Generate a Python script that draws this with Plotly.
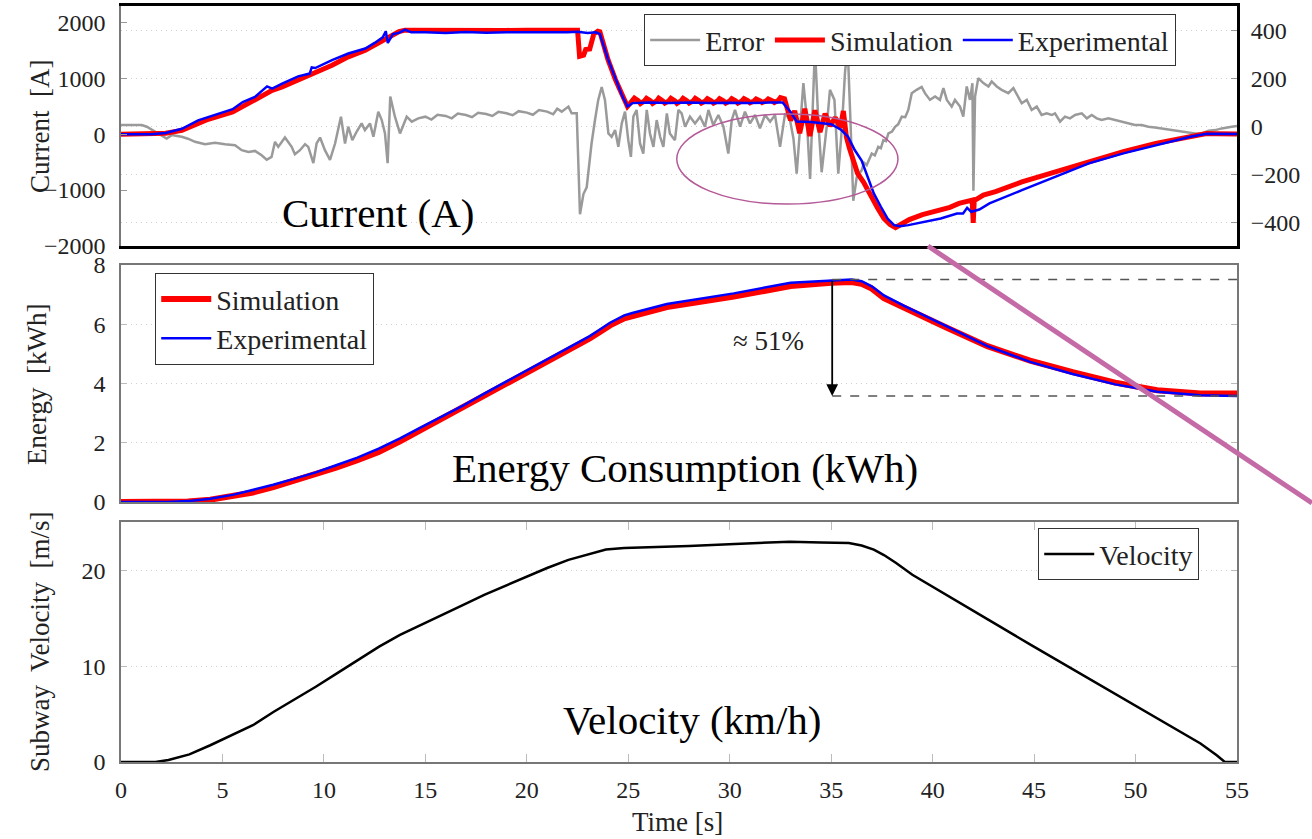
import plotly.graph_objects as go

FONT = "Liberation Serif"

# ---------------- data ----------------
# Error (right axis of top panel), (time [s], value)
error_pts = [
    (0, 7), (1.02, 7), (1.27, 0), (1.68, -21), (2.25, -49), (2.5, -35), (2.99, -42), (3.3, -50),
    (3.65, -63), (4.14, -73), (4.63, -67), (5.13, -73), (5.62, -77), (5.95, -98), (6.28, -105),
    (6.6, -101), (6.93, -119), (7.18, -138), (7.42, -126), (7.59, -63), (7.75, -84), (8.08, -45),
    (8.41, -84), (8.57, -115), (8.82, -98), (9.07, -73), (9.23, -84), (9.48, -152), (9.64, -70),
    (9.81, -45), (10.05, -98), (10.3, -138), (10.55, -70), (10.84, 42), (11.04, -70), (11.2, 0),
    (11.4, -56), (11.61, -21), (11.86, 14), (12.02, -14), (12.27, 14), (12.44, -42), (12.68, 63),
    (12.85, 28), (13.01, -28), (13.14, -152), (13.27, 126), (13.5, 42), (13.75, -28), (14.08, 42),
    (14.33, 21), (14.65, 35), (15.0, 42), (15.3, 30), (15.6, 50), (16.0, 45), (16.3, 35),
    (16.6, 55), (17.0, 49), (17.3, 40), (17.6, 58), (18.0, 53), (18.3, 45), (18.6, 62), (19.0, 56),
    (19.3, 48), (19.6, 65), (20.0, 59), (20.3, 50), (20.6, 70), (21.0, 63), (21.3, 52), (21.5, 75),
    (21.72, 63), (22.05, 84), (22.21, 56), (22.46, 56), (22.62, -365), (22.79, -281), (22.95, -253),
    (23.19, -70), (23.36, 28), (23.52, 112), (23.69, 166), (23.85, 112), (24.02, -28), (24.18, -42),
    (24.35, -14), (24.51, -84), (24.68, 14), (24.84, 63), (25.0, -56), (25.13, -126), (25.25, 42),
    (25.41, 70), (25.58, -70), (25.74, -112), (25.91, 70), (26.07, -28), (26.24, -84), (26.4, 28),
    (26.57, -42), (26.73, -84), (26.9, 56), (27.05, -28), (27.3, -56), (27.47, 70), (27.63, 56),
    (27.8, 0), (28.04, 42), (28.29, 14), (28.54, 42), (28.78, 0), (28.95, 70), (29.19, 7),
    (29.44, 49), (29.69, 0), (29.93, -112), (30.1, 28), (30.26, 70), (30.51, 0), (30.75, 63),
    (31.0, 14), (31.25, 49), (31.49, -7), (31.74, 49), (31.99, 21), (32.23, 49), (32.48, -84),
    (32.73, 56), (32.97, 28), (33.14, -49), (33.3, -196), (33.47, 0), (33.63, 182), (33.79, 42),
    (33.96, -218), (34.2, 330), (34.37, 14), (34.53, -190), (34.78, 0), (34.94, 154), (35.16, 112),
    (35.35, -196), (35.52, -14), (35.68, 225), (35.81, 340), (35.93, 70), (36.09, -309),
    (36.26, -211), (36.5, -182), (36.62, -150), (36.75, -160), (37.0, -112), (37.15, -120),
    (37.32, -84), (37.45, -90), (37.57, -56), (37.7, -60), (37.82, -28), (38.0, -20), (38.15, 0),
    (38.3, 10), (38.48, 42), (38.65, 40), (38.8, 70), (38.97, 140), (39.21, 154), (39.46, 166),
    (39.62, 140), (39.87, 112), (40.12, 126), (40.36, 112), (40.53, 161), (40.7, 112), (40.94, 84),
    (41.1, 112), (41.35, 84), (41.51, 42), (41.68, 168), (41.84, 112), (41.96, 182), (42.01, -267),
    (42.09, 126), (42.25, 203), (42.5, 182), (42.75, 168), (42.91, 189), (43.16, 168), (43.4, 154),
    (43.73, 140), (43.98, 161), (44.23, 126), (44.39, 98), (44.64, 112), (44.88, 70), (45.13, 84),
    (45.37, 49), (45.62, 56), (45.87, 49), (46.03, 56), (46.28, 21), (46.52, 42), (46.77, 35),
    (47.02, 49), (47.35, 56), (47.6, 35), (47.84, 49), (48.09, 35), (48.33, 28), (48.66, 35),
    (48.99, 28), (49.32, 21), (49.65, 14), (49.97, 7), (50.3, 7), (50.63, 0), (50.96, -3),
    (51.29, -7), (51.62, -11), (51.95, -17), (52.27, -21), (52.6, -25), (52.93, -28), (53.26, -28),
    (53.6, -17), (53.93, -14), (54.25, -7), (54.74, 0), (55, 3),
]

# Simulation current [A]
sim_current_pts = [
    (0, 0), (1.5, 0), (2.2, 20), (3.0, 70), (3.8, 190), (4.3, 270), (5.5, 400), (6.0, 500),
    (6.6, 610), (7.45, 790), (7.94, 850), (8.73, 970), (9.57, 1090), (10.4, 1240), (11.2, 1390),
    (12.04, 1510), (12.5, 1600), (12.9, 1690), (13.3, 1760), (13.7, 1845), (14.0, 1870),
    (15, 1865), (16, 1872), (17, 1862), (18, 1868), (19, 1865), (20, 1870), (21, 1866), (22, 1872),
    (22.5, 1870), (22.6, 1400), (22.8, 1420), (22.9, 1520), (23.1, 1530), (23.3, 1800), (23.5, 1850),
    (23.6, 1840), (24.0, 1340), (24.37, 980), (24.7, 680), (24.96, 500), (25.1, 560),
    (25.3, 650), (25.5, 600), (25.6, 550), (25.8, 600), (25.9, 645), (26.1, 600), (26.2, 555),
    (26.4, 600), (26.5, 650), (26.7, 600), (26.8, 560), (27.0, 600), (27.1, 645), (27.3, 600),
    (27.4, 555), (27.6, 600), (27.7, 645), (27.9, 600), (28.0, 560), (28.2, 600), (28.3, 645),
    (28.5, 600), (28.6, 560), (28.8, 600), (28.9, 640), (29.1, 600), (29.2, 560), (29.4, 600),
    (29.5, 640), (29.7, 600), (29.8, 560), (30.0, 600), (30.1, 640), (30.3, 600), (30.4, 560),
    (30.6, 600), (30.7, 640), (30.9, 600), (31.0, 565), (31.2, 600), (31.3, 635), (31.5, 600),
    (31.6, 570), (31.8, 600), (31.9, 635), (32.1, 600), (32.2, 570), (32.4, 610), (32.5, 660),
    (32.7, 640), (33.0, 250), (33.2, 420),
    (33.45, 20), (33.7, 460), (33.95, -30), (34.2, 430), (34.45, 40), (34.7, 370), (34.95, 150),
    (35.2, 300), (35.45, 120), (35.6, 420), (35.75, -50), (35.9, -250), (36.1, -500), (36.3, -700),
    (36.6, -860), (36.97, -1120), (37.3, -1330), (37.6, -1510), (37.9, -1620), (38.17, -1673),
    (38.5, -1610), (38.85, -1530), (39.5, -1440), (40.2, -1370), (40.85, -1310), (41.3, -1240),
    (41.8, -1200), (41.95, -1180), (42.0, -1590), (42.05, -1190), (42.5, -1090), (43.1, -1030),
    (44.4, -855), (46.1, -672), (47.7, -492), (49.4, -312), (51.0, -162), (52.7, -43),
    (53.5, 15), (54, 10), (55, 5),
]

# Experimental current [A]
exp_current_pts = [
    (0, 0), (1.5, 0), (2.2, 25), (3.0, 100), (3.8, 250), (4.3, 310), (5.5, 450), (6.0, 580),
    (6.6, 670), (7.2, 860), (7.45, 820), (7.94, 910), (8.73, 1040), (9.3, 1090), (9.4, 1200),
    (9.57, 1190), (10.4, 1330), (11.2, 1450), (12.04, 1540), (12.5, 1640), (12.9, 1740),
    (13.05, 1850), (13.15, 1640), (13.4, 1800), (13.7, 1820), (14.0, 1880), (14.3, 1830),
    (15, 1830), (16, 1820), (17, 1835), (18, 1825), (19, 1832), (20, 1828), (21, 1835), (22, 1830),
    (22.5, 1840), (23.0, 1820), (23.4, 1830), (23.6, 1800), (24.0, 1350), (24.37, 990),
    (24.7, 690), (24.96, 500), (25.2, 560), (26, 570), (27, 560), (28, 570), (29, 560), (30, 565),
    (31, 560), (32, 570), (32.6, 570), (33.0, 400), (33.3, 230), (34, 220), (35.0, 180),
    (35.2, 140), (35.5, 77), (35.83, -43), (36.16, -282), (36.5, -470), (36.8, -762),
    (37.1, -1061), (37.45, -1300), (37.78, -1511), (38.1, -1631), (38.4, -1650), (38.8, -1630),
    (39.6, -1572), (40.4, -1511), (41.2, -1421), (41.5, -1420), (41.7, -1320), (41.9, -1390),
    (42.3, -1350), (42.8, -1241), (44.4, -1002), (46.1, -762), (47.7, -522), (49.4, -342),
    (51.0, -192), (52.7, -43), (53.5, 10), (55, 5),
]

# Energy [kWh]
sim_energy_pts = [
    (0, 0), (2.3, 0), (3.3, 0.02), (4.4, 0.08), (5.5, 0.19), (6.5, 0.32), (7.5, 0.5), (8.56, 0.71),
    (9.6, 0.92), (10.6, 1.16), (11.65, 1.41), (12.7, 1.69), (13.75, 2.05), (14.8, 2.44),
    (15.85, 2.82), (16.9, 3.19), (17.9, 3.58), (18.95, 3.97), (20, 4.35), (21.0, 4.73),
    (22.05, 5.12), (23.1, 5.52), (23.6, 5.74), (24.1, 5.96), (24.8, 6.2), (25.2, 6.28),
    (26.9, 6.58), (30.2, 6.93), (33.0, 7.29), (35.0, 7.40), (36.0, 7.42), (36.5, 7.36),
    (37.0, 7.2), (37.6, 6.88), (38.6, 6.55), (40.7, 5.88), (42.7, 5.26), (44.8, 4.77),
    (46.9, 4.38), (49.0, 4.03), (51.06, 3.77), (53.2, 3.66), (55, 3.66),
]
exp_energy_pts = [
    (0, 0), (2.3, 0), (3.3, 0.03), (4.4, 0.11), (5.5, 0.24), (6.5, 0.4), (7.5, 0.58), (8.56, 0.79),
    (9.6, 1.0), (10.6, 1.24), (11.65, 1.5), (12.7, 1.8), (13.75, 2.15), (14.8, 2.53),
    (15.85, 2.9), (16.9, 3.27), (17.9, 3.66), (18.95, 4.05), (20, 4.43), (21.0, 4.81),
    (22.05, 5.2), (23.1, 5.6), (23.6, 5.82), (24.1, 6.05), (24.8, 6.3), (25.2, 6.38),
    (26.9, 6.68), (30.2, 7.04), (33.0, 7.40), (35.0, 7.49), (36.0, 7.51), (36.5, 7.45),
    (37.0, 7.28), (37.6, 6.97), (38.6, 6.62), (40.7, 5.93), (42.7, 5.26), (44.8, 4.73),
    (46.9, 4.32), (49.0, 3.97), (51.06, 3.72), (53.2, 3.60), (55, 3.58),
]

# Velocity
velocity_pts = [
    (0, 0), (1.7, 0), (2.34, 0.2), (3.37, 0.8), (4.4, 1.75), (5.45, 2.8), (6.5, 3.84), (7.53, 5.24),
    (8.56, 6.53), (9.6, 7.85), (10.64, 9.25), (11.68, 10.65), (12.72, 12.04), (13.75, 13.27),
    (14.8, 14.3), (15.83, 15.36), (16.87, 16.4), (17.9, 17.45), (18.95, 18.4), (20.0, 19.37),
    (21.0, 20.25), (22.05, 21.1), (23.1, 21.75), (23.9, 22.17), (24.8, 22.35), (26.1, 22.4),
    (28, 22.55), (30.25, 22.76), (32.96, 23.0), (34.5, 22.92), (35.87, 22.87), (36.5, 22.6),
    (37.1, 22.17), (37.6, 21.6), (38.2, 20.77), (39.0, 19.55), (40.7, 17.45), (42.76, 14.84),
    (44.84, 12.22), (46.9, 9.67), (49.0, 7.16), (51.08, 4.54), (53.2, 1.93), (54.0, 0.7),
    (54.2, 0.36), (54.4, 0), (55, 0),
]

energy_peak = 7.51
energy_final = 3.58
energy_arrow_t = 35.05

x_ticks = [0, 5, 10, 15, 20, 25, 30, 35, 40, 45, 50, 55]
current_ticks = [-2000, -1000, 0, 1000, 2000]
error_ticks = [-400, -200, 0, 200, 400]
energy_ticks = [0, 2, 4, 6, 8]
velocity_ticks = [0, 10, 20]


def split(pts):
    xs, ys = zip(*pts)
    return list(xs), list(ys)


# ---------------- figure ----------------
fig = go.Figure()

tx, ty = split(error_pts)
fig.add_trace(go.Scatter(x=tx, y=ty, mode="lines", name="Error",
                         line=dict(color="#9a9a9a", width=2.5), xaxis="x", yaxis="y",
                         legend="legend"))
tx, ty = split(sim_current_pts)
fig.add_trace(go.Scatter(x=tx, y=ty, mode="lines", name="Simulation",
                         line=dict(color="#ff0000", width=5), xaxis="x", yaxis="y2",
                         legend="legend"))
tx, ty = split(exp_current_pts)
fig.add_trace(go.Scatter(x=tx, y=ty, mode="lines", name="Experimental",
                         line=dict(color="#0000ff", width=2.5), xaxis="x", yaxis="y2",
                         legend="legend"))
tx, ty = split(sim_energy_pts)
fig.add_trace(go.Scatter(x=tx, y=ty, mode="lines", name="Simulation",
                         line=dict(color="#ff0000", width=6), xaxis="x2", yaxis="y3",
                         legend="legend2"))
tx, ty = split(exp_energy_pts)
fig.add_trace(go.Scatter(x=tx, y=ty, mode="lines", name="Experimental",
                         line=dict(color="#0000ff", width=2.5), xaxis="x2", yaxis="y3",
                         legend="legend2"))
tx, ty = split(velocity_pts)
fig.add_trace(go.Scatter(x=tx, y=ty, mode="lines", name="Velocity",
                         line=dict(color="#000000", width=2.5), xaxis="x3", yaxis="y4",
                         legend="legend3"))

tickfont = dict(family=FONT, size=24, color="#222")
grid = dict(showgrid=True, gridcolor="#cfcfcf", gridwidth=1, griddash="1px,4px")

D_TOP = [0.6825, 1.0]
D_MID = [0.3439, 0.6575]
D_BOT = [0.0, 0.3168]

fig.update_layout(
    width=1312, height=839,
    margin=dict(l=121, r=75, t=6, b=77, pad=0, autoexpand=False),
    paper_bgcolor="white", plot_bgcolor="white",
    font=dict(family=FONT, size=26, color="#222"),
    showlegend=True,
    xaxis=dict(domain=[0, 1], anchor="y", range=[0, 55], showticklabels=False, ticks="",
               showline=True, mirror=True, linecolor="black", linewidth=3,
               showgrid=False, zeroline=False, automargin=False),
    yaxis=dict(domain=D_TOP, anchor="x", side="right", range=[-498, 504],
               tickvals=error_ticks, ticks="inside", ticklen=6, tickcolor="#999",
               showline=True, linecolor="black", linewidth=3, zeroline=False,
               tickfont=tickfont, ticklabelstandoff=6, automargin=False, **grid),
    yaxis2=dict(overlaying="y", anchor="x", side="left", range=[-2005, 2303],
                tickvals=current_ticks, ticks="inside", ticklen=6, tickcolor="#999",
                showline=True, linecolor="#777", linewidth=1.5, zeroline=False,
                showgrid=False, tickfont=tickfont, ticklabelstandoff=9, automargin=False),
    xaxis2=dict(domain=[0, 1], anchor="y3", matches="x", range=[0, 55], showticklabels=False,
                ticks="", showline=True, mirror=True, linecolor="#777", linewidth=1.5,
                showgrid=False, zeroline=False, automargin=False),
    yaxis3=dict(domain=D_MID, anchor="x2", range=[0, 8], tickvals=energy_ticks,
                ticks="inside", ticklen=6, tickcolor="#bbb", mirror="ticks",
                showline=True, linecolor="#777", linewidth=1.5, zeroline=False,
                tickfont=tickfont, ticklabelstandoff=9, automargin=False, **grid),
    xaxis3=dict(domain=[0, 1], anchor="y4", matches="x", range=[0, 55], tickvals=x_ticks,
                ticks="inside", ticklen=8, tickcolor="#bbb", mirror="ticks",
                showline=True, linecolor="#777", linewidth=1.5, showgrid=False,
                zeroline=False, tickfont=tickfont, ticklabelstandoff=5, automargin=False),
    yaxis4=dict(domain=D_BOT, anchor="x3", range=[0, 25], tickvals=velocity_ticks,
                ticks="inside", ticklen=6, tickcolor="#bbb", mirror="ticks",
                showline=True, linecolor="#777", linewidth=1.5, zeroline=False,
                tickfont=tickfont, ticklabelstandoff=9, automargin=False, **grid),
    legend=dict(orientation="h", x=0.4686, y=0.9894, xanchor="left", yanchor="top",
                bgcolor="white", bordercolor="#333", borderwidth=1.2,
                font=dict(family=FONT, size=28, color="#222"), itemwidth=50,
                tracegroupgap=0),
    legend2=dict(x=0.0305, y=0.6468, xanchor="left", yanchor="top",
                 bgcolor="white", bordercolor="#333", borderwidth=1.2,
                 font=dict(family=FONT, size=28, color="#222"), itemwidth=50),
    legend3=dict(x=0.8217, y=0.3095, xanchor="left", yanchor="top",
                 bgcolor="white", bordercolor="#333", borderwidth=1.2,
                 font=dict(family=FONT, size=28, color="#222"), itemwidth=50),
)

# dashed reference lines and arrow on the energy panel
fig.add_shape(type="line", xref="x2", yref="y3", x0=energy_arrow_t, x1=55,
              y0=energy_peak, y1=energy_peak, line=dict(color="#555", width=1.5, dash="dash"))
fig.add_shape(type="line", xref="x2", yref="y3", x0=energy_arrow_t, x1=55,
              y0=energy_final, y1=energy_final, line=dict(color="#555", width=1.5, dash="dash"))

# highlight ellipse and diagonal pointer line
fig.add_shape(type="circle", xref="paper", yref="paper", x0=0.498, x1=0.6962, y0=0.738, y1=0.857,
              line=dict(color="#b45a98", width=1.5))
fig.add_shape(type="line", xref="paper", yref="paper", x0=0.7231, y0=0.6825, x1=1.0672, y1=0.3426,
              line=dict(color="#c46aa6", width=5))

annotations = [
    dict(x=energy_arrow_t, y=energy_final, xref="x2", yref="y3", ax=energy_arrow_t,
         ay=energy_peak, axref="x2", ayref="y3", showarrow=True, arrowhead=2, arrowsize=1.3,
         arrowwidth=1.8, arrowcolor="black", text=""),
    dict(x=31.92, y=5.42, xref="x2", yref="y3", text="≈ 51%", showarrow=False,
         font=dict(family=FONT, size=27, color="#222")),
    dict(x=12.68, y=-1415, xref="x", yref="y2", text="Current (A)", showarrow=False,
         font=dict(family=FONT, size=41, color="black")),
    dict(x=27.78, y=1.14, xref="x2", yref="y3", text="Energy Consumption (kWh)", showarrow=False,
         font=dict(family=FONT, size=41, color="black")),
    dict(x=28.12, y=4.37, xref="x3", yref="y4", text="Velocity (km/h)", showarrow=False,
         font=dict(family=FONT, size=41, color="black")),
    dict(x=-0.0726, y=0.8413, xref="paper", yref="paper", text="Current  [A]", textangle=-90,
         xanchor="center", yanchor="middle",
         showarrow=False, font=dict(family=FONT, size=27, color="#222")),
    dict(x=-0.0753, y=0.5, xref="paper", yref="paper", text="Energy  [kWh]", textangle=-90,
         xanchor="center", yanchor="middle",
         showarrow=False, font=dict(family=FONT, size=27, color="#222")),
    dict(x=-0.0726, y=0.1587, xref="paper", yref="paper", text="Subway  Velocity  [m/s]",
         xanchor="center", yanchor="middle",
         textangle=-90, showarrow=False, font=dict(family=FONT, size=27, color="#222")),
    dict(x=0.499, y=-0.0794, xref="paper", yref="paper", text="Time [s]", showarrow=False,
         xanchor="center", yanchor="middle",
         font=dict(family=FONT, size=27, color="#222")),
]
fig.update_layout(annotations=annotations)

fig.write_html("out.html")
